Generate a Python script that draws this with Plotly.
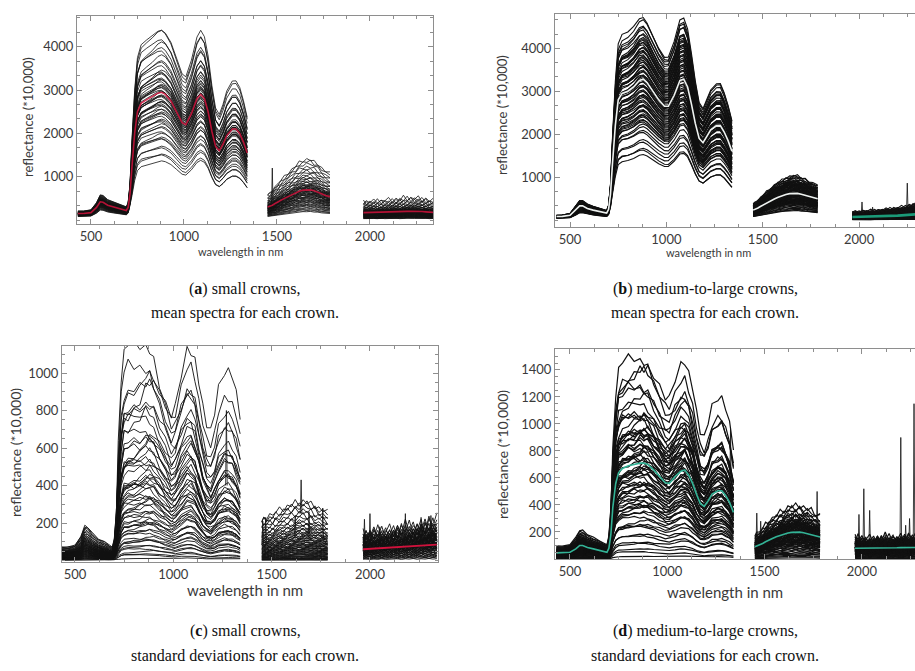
import numpy as np
import plotly.graph_objects as go

# ---------------- wavelength knots (nm) for the three measured segments ----------------
W1 = [430, 460, 500, 530, 550, 565, 590, 620, 650, 675, 690, 700, 710, 720, 735, 750, 770, 800, 830, 860,
      880, 900, 930, 960, 990, 1010, 1040, 1070, 1090, 1110, 1130, 1150, 1170, 1190, 1210, 1230, 1260,
      1280, 1300, 1320, 1340]
W2 = [1450, 1460, 1475, 1490, 1505, 1520, 1540, 1560, 1580, 1600, 1620, 1640, 1660, 1680, 1700, 1720,
      1740, 1760, 1785]
W3 = [1965, 1980, 2000, 2020, 2040, 2060, 2080, 2100, 2120, 2140, 2160, 2180, 2200, 2220, 2240, 2260,
      2280, 2300, 2320, 2340]
TILT_W1 = [0, 0, 0, 0, 0, 0, 0, 0, 0, 0, 0, 0, 0, -0.8, -1, -1, -1, -0.9, -0.8, -0.6, -0.5, -0.4, -0.3,
           -0.15, 0, 0.1, 0.2, 0.3, 0.35, 0.4, 0.5, 0.6, 0.7, 0.8, 0.85, 0.9, 0.95, 1, 1, 1, 1]
N1 = [1.0, 1.06, 0.95, 1.04, 0.97, 1.08, 0.93, 1.05, 0.96, 1.07, 0.94, 1.03, 0.98, 1.06, 0.95, 1.04,
      0.97, 1.08, 0.92, 1.05, 0.97, 1.07, 0.94, 1.03, 0.96, 1.08, 0.95, 1.04, 0.97, 1.06, 0.93, 1.05,
      0.98, 1.07, 0.94, 1.03, 0.96, 1.08, 0.95, 1.04, 1.0]
N2 = [1.00, 1.12, 0.92, 1.05, 0.95, 1.10, 0.90, 1.06, 0.97, 1.08, 0.93, 1.04, 0.96, 1.11, 0.91, 1.07,
      0.94, 1.09, 1.00]
N3 = [1.00, 1.18, 0.88, 1.10, 0.92, 1.22, 0.90, 1.06, 0.95, 1.15, 0.86, 1.12, 0.97, 1.20, 0.89, 1.08,
      0.94, 1.16, 0.91, 1.05]

X_TICKS = [500, 1000, 1500, 2000]

# ---------------- (a) small crowns, mean spectra ----------------
A_MEAN1 = [150, 150, 170, 290, 420, 410, 340, 300, 270, 230, 220, 290, 600, 1200, 2000, 2500, 2700, 2780,
           2850, 2930, 2950, 2900, 2750, 2500, 2250, 2200, 2450, 2800, 2900, 2800, 2500, 2050, 1700, 1600,
           1750, 1950, 2100, 2100, 2000, 1800, 1550]
A_MEAN2 = [300, 310, 340, 380, 420, 455, 500, 540, 585, 625, 665, 690, 700, 695, 675, 645, 605, 565, 540]
A_MEAN3 = [170, 171, 172, 174, 176, 178, 181, 184, 187, 190, 193, 196, 200, 203, 205, 202, 195, 188,
           180, 175]
A_EXP = [0.8, 1.7, 2.2]
A_NOISE = [0.0, 0.3, 0.9]
A_FACTORS = [0.47, 0.50, 0.53, 0.56, 0.59, 0.62, 0.64, 0.66, 0.68, 0.70, 0.72, 0.74, 0.75, 0.77, 0.78,
             0.80, 0.81, 0.83, 0.84, 0.85, 0.86, 0.88, 0.89, 0.90, 0.91, 0.92, 0.93, 0.94, 0.95, 0.96,
             0.97, 0.98, 0.99, 1.00, 1.01, 1.02, 1.03, 1.04, 1.05, 1.06, 1.07, 1.08, 1.09, 1.10, 1.12,
             1.13, 1.15, 1.17, 1.19, 1.21, 1.23, 1.26, 1.29, 1.32, 1.35, 1.39, 1.43, 1.47, 1.50]
A_TILTS = [0.03, -0.04, 0.05, -0.02, 0.04, -0.05, 0.01, 0.03, -0.03, 0.06, -0.01, 0.02, -0.05, 0.04,
           0.00, -0.03, 0.05, -0.02, 0.02, -0.04]
A_SPIKE_WL = [1475]
A_SPIKE_TOP = [1200]
A_SPIKE_BASE = [350]

# ---------------- (b) medium-to-large crowns, mean spectra ----------------
B_MEAN1 = [80, 85, 110, 230, 330, 330, 270, 230, 200, 170, 160, 250, 600, 1300, 2200, 2800, 2950, 3000,
           3100, 3250, 3280, 3200, 3000, 2800, 2650, 2650, 2900, 3250, 3280, 3100, 2700, 2250, 1900, 1800,
           1950, 2100, 2200, 2200, 2050, 1850, 1600]
B_MEAN2 = [230, 245, 280, 320, 360, 400, 445, 490, 530, 565, 595, 615, 625, 620, 600, 575, 545, 515, 495]
B_MEAN3 = [70, 71, 72, 74, 76, 78, 81, 84, 87, 90, 94, 98, 102, 108, 115, 122, 130, 138, 144, 148]
B_EXP = [0.9, 1.4, 2.8]
B_NOISE = [0.0, 0.3, 0.9]
B_FACTORS = [0.47, 0.49, 0.52, 0.55, 0.58, 0.61, 0.64, 0.67, 0.69, 0.70, 0.71, 0.72, 0.73, 0.74, 0.75,
             0.76, 0.77, 0.78, 0.79, 0.80, 0.81, 0.82, 0.83, 0.84, 0.85, 0.86, 0.87, 0.88, 0.89, 0.90,
             0.91, 0.92, 0.93, 0.94, 0.95, 0.96, 0.97, 0.98, 0.99, 1.00, 1.01, 1.02, 1.03, 1.04, 1.05,
             1.06, 1.07, 1.08, 1.09, 1.10, 1.11, 1.12, 1.13, 1.14, 1.15, 1.16, 1.17, 1.18, 1.19, 1.20,
             1.21, 1.22, 1.23, 1.24, 1.25, 1.26, 1.27, 1.28, 1.29, 1.30, 1.31, 1.33, 1.35, 1.37, 1.39,
             1.41, 1.43]
B_TILTS = [0.02, -0.03, 0.04, -0.01, 0.03, -0.04, 0.01, 0.02, -0.02, 0.05, -0.01, 0.03, -0.04, 0.02]
B_SPIKE_WL = [2015, 2070, 2250]
B_SPIKE_TOP = [420, 300, 860]
B_SPIKE_BASE = [150, 160, 200]

# ---------------- (c) small crowns, standard deviations ----------------
C_MEAN1 = [25, 25, 28, 45, 65, 62, 50, 40, 35, 28, 25, 40, 90, 180, 270, 310, 320, 325, 330, 340, 340,
           330, 300, 270, 240, 250, 290, 320, 320, 300, 260, 220, 190, 180, 200, 230, 250, 250, 240, 220,
           190]
C_MEAN2 = [60, 61, 63, 65, 67, 70, 73, 76, 79, 82, 84, 86, 86, 85, 83, 80, 77, 74, 70]
C_MEAN3 = [60, 61, 62, 63, 64, 65, 66, 67, 68, 70, 71, 72, 74, 75, 77, 78, 80, 82, 84, 85]
C_EXP = [0.9, 1.1, 0.7]
C_NOISE = [0.35, 0.7, 1.6]
C_FACTORS = [0.04, 0.08, 0.11, 0.15, 0.18, 0.22, 0.25, 0.29, 0.32, 0.36, 0.39, 0.43, 0.46, 0.50, 0.53,
             0.57, 0.60, 0.64, 0.67, 0.71, 0.74, 0.78, 0.81, 0.85, 0.88, 0.92, 0.95, 0.99, 1.02, 1.06,
             1.10, 1.14, 1.18, 1.22, 1.26, 1.30, 1.34, 1.38, 1.43, 1.48, 1.53, 1.58, 1.63, 1.68, 1.74,
             1.80, 1.86, 1.93, 2.00, 2.08, 2.16, 2.26, 2.38, 2.52, 2.66, 2.80, 2.95, 3.10, 3.22]
C_TILTS = [0.25, -0.2, 0.1, -0.3, 0.3, -0.1, 0.15, -0.25, 0.05, 0.2, -0.15, 0.28, -0.05, -0.3, 0.18,
           0.0, -0.22, 0.12, 0.26, -0.12]
C_SPIKE_WL = [1270, 1455, 1470, 1620, 1650, 1690, 1760, 1972, 2000, 2050, 2180, 2260, 2310]
C_SPIKE_TOP = [800, 210, 230, 240, 430, 260, 280, 220, 250, 180, 250, 230, 240]
C_SPIKE_BASE = [400, 80, 90, 120, 250, 120, 120, 80, 90, 80, 90, 100, 100]

# ---------------- (d) medium-to-large crowns, standard deviations ----------------
D_MEAN1 = [45, 45, 50, 75, 100, 100, 85, 75, 65, 55, 50, 80, 180, 380, 560, 640, 670, 690, 700, 710, 710,
           700, 660, 610, 565, 560, 610, 650, 660, 620, 560, 480, 410, 390, 430, 480, 505, 505, 470, 420,
           345]
D_MEAN2 = [90, 95, 102, 115, 128, 140, 152, 165, 175, 185, 192, 197, 200, 199, 195, 188, 180, 170, 163]
D_MEAN3 = [80, 80, 79, 78, 78, 79, 80, 80, 81, 82, 82, 83, 84, 84, 85, 85, 86, 86, 86, 86]
D_EXP = [1.0, 0.9, 0.8]
D_NOISE = [0.3, 0.7, 1.6]
D_FACTORS = [0.03, 0.07, 0.11, 0.15, 0.19, 0.23, 0.27, 0.31, 0.35, 0.38, 0.41, 0.44, 0.47, 0.50, 0.52,
             0.54, 0.56, 0.58, 0.60, 0.62, 0.64, 0.66, 0.68, 0.70, 0.72, 0.74, 0.76, 0.78, 0.80, 0.82,
             0.84, 0.86, 0.88, 0.90, 0.92, 0.94, 0.96, 0.98, 1.00, 1.02, 1.04, 1.06, 1.08, 1.10, 1.12,
             1.14, 1.16, 1.18, 1.20, 1.22, 1.24, 1.26, 1.28, 1.30, 1.32, 1.34, 1.36, 1.38, 1.40, 1.43,
             1.46, 1.50, 1.55, 1.60, 1.66, 1.72, 1.80, 1.90, 2.00, 2.12]
D_TILTS = [0.15, -0.12, 0.08, -0.18, 0.2, -0.06, 0.1, -0.15, 0.03, 0.12, -0.1, 0.18, -0.03, -0.2, 0.1,
           0.0, -0.14, 0.07, 0.16, -0.08]
D_SPIKE_WL = [1325, 1460, 1480, 1755, 1770, 1985, 2010, 2040, 2120, 2200, 2225, 2245, 2268]
D_SPIKE_TOP = [970, 340, 280, 260, 500, 330, 520, 360, 180, 900, 250, 300, 1150]
D_SPIKE_BASE = [500, 100, 120, 180, 170, 100, 100, 100, 100, 120, 110, 110, 120]

CAPTIONS = [
    ("(<b>a</b>) small crowns,", "mean spectra for each crown."),
    ("(<b>b</b>) medium-to-large crowns,", "mean spectra for each crown."),
    ("(<b>c</b>) small crowns,", "standard deviations for each crown."),
    ("(<b>d</b>) medium-to-large crowns,", "standard deviations for each crown."),
]
Y_TITLE = "reflectance (*10,000)"
X_TITLE = "wavelength in nm"


# ---------------- helpers ----------------
def textured(base, noise, amp, shift):
    n = np.roll(np.array(noise), shift)
    return np.array(base) * (1 + amp * (n - 1))


def crown_lines(m1, m2, m3, exps, noise_amp, factors, tilts):
    s1 = np.where(np.array(W1) <= 710, exps[0], 1.0)
    tw = np.array(TILT_W1)
    xs, ys = [], []
    for k, f in enumerate(factors):
        t = tilts[k % len(tilts)]
        y1 = textured(m1, N1, noise_amp[0], 3 * k) * f ** s1 * (1 + t * tw)
        y2 = textured(m2, N2, noise_amp[1], 5 * k) * f ** exps[1]
        y3 = textured(m3, N3, noise_amp[2], 7 * k) * f ** exps[2]
        y1 = np.clip(y1, 2, None)
        y2 = np.clip(y2, 2, None)
        y3 = np.clip(y3, 2, None)
        xs += W1 + [None] + W2 + [None] + W3 + [None]
        ys += list(y1) + [None] + list(y2) + [None] + list(y3) + [None]
    return xs, ys


def spikes(wl, top, base):
    xs, ys = [], []
    for w, t, b in zip(wl, top, base):
        xs += [w - 4, w, w + 4, None]
        ys += [b, t, b, None]
    return xs, ys


def seg_line(m1, m2, m3, use=(True, True, True)):
    xs, ys = [], []
    for u, w, m in zip(use, (W1, W2, W3), (m1, m2, m3)):
        if u:
            xs += w + [None]
            ys += m + [None]
    return xs, ys


fig = go.Figure()
RED = "#d0123c"
TEAL = "#33b396"

panels = [
    ("x", "y", A_MEAN1, A_MEAN2, A_MEAN3, A_EXP, A_NOISE, A_FACTORS, A_TILTS, A_SPIKE_WL, A_SPIKE_TOP,
     A_SPIKE_BASE, 0.8),
    ("x2", "y2", B_MEAN1, B_MEAN2, B_MEAN3, B_EXP, B_NOISE, B_FACTORS, B_TILTS, B_SPIKE_WL, B_SPIKE_TOP,
     B_SPIKE_BASE, 1.1),
    ("x3", "y3", C_MEAN1, C_MEAN2, C_MEAN3, C_EXP, C_NOISE, C_FACTORS, C_TILTS, C_SPIKE_WL, C_SPIKE_TOP,
     C_SPIKE_BASE, 0.9),
    ("x4", "y4", D_MEAN1, D_MEAN2, D_MEAN3, D_EXP, D_NOISE, D_FACTORS, D_TILTS, D_SPIKE_WL, D_SPIKE_TOP,
     D_SPIKE_BASE, 1.2),
]

for i, (xa, ya, m1, m2, m3, ex, na, fac, tl, swl, stop, sbase, lw) in enumerate(panels):
    cx, cy = crown_lines(m1, m2, m3, ex, na, fac, tl)
    fig.add_trace(go.Scatter(x=cx, y=cy, mode="lines", line=dict(color="#111111", width=lw),
                             xaxis=xa, yaxis=ya, hoverinfo="skip"))
    sx, sy = spikes(swl, stop, sbase)
    fig.add_trace(go.Scatter(x=sx, y=sy, mode="lines", line=dict(color="#111111", width=0.8),
                             xaxis=xa, yaxis=ya, hoverinfo="skip"))

# mean lines on top
mx, my = seg_line(A_MEAN1, A_MEAN2, A_MEAN3)
fig.add_trace(go.Scatter(x=mx, y=my, mode="lines", line=dict(color=RED, width=1.6), opacity=0.85,
                         xaxis="x", yaxis="y"))
mx, my = seg_line(B_MEAN1, B_MEAN2, B_MEAN3, (True, True, False))
fig.add_trace(go.Scatter(x=mx, y=my, mode="lines", line=dict(color="#eef2f0", width=1.6), xaxis="x2", yaxis="y2"))
mx, my = seg_line(B_MEAN1, B_MEAN2, B_MEAN3, (False, False, True))
fig.add_trace(go.Scatter(x=mx, y=my, mode="lines", line=dict(color="#1b9a78", width=2.6), xaxis="x2", yaxis="y2"))
mx, my = seg_line(C_MEAN1, C_MEAN2, C_MEAN3, (False, False, True))
fig.add_trace(go.Scatter(x=mx, y=my, mode="lines", line=dict(color=RED, width=1.8), xaxis="x3", yaxis="y3"))
mx, my = seg_line(D_MEAN1, D_MEAN2, D_MEAN3)
fig.add_trace(go.Scatter(x=mx, y=my, mode="lines", line=dict(color=TEAL, width=1.6), xaxis="x4", yaxis="y4"))

AX = "#8e8e8e"
TXT = "#3a3a3a"
TICKFONT = dict(family="Lato", size=13, color=TXT)
W, H = 915, 671


def px(x0, x1):
    return [x0 / W, min(x1 / W, 1.0)]


def py(top, bottom):
    return [1 - bottom / H, 1 - top / H]


def xaxis(dom, rng, anchor):
    return dict(domain=dom, range=rng, anchor=anchor, tickvals=X_TICKS, ticks="inside", ticklen=5,
                tickcolor=AX, showline=True, linecolor=AX, linewidth=1, mirror="ticks", showgrid=False,
                zeroline=False, tickfont=TICKFONT,
                minor=dict(ticks="inside", ticklen=3, dtick=125, tick0=0, tickcolor=AX))


def yaxis(dom, rng, anchor, tickvals, minor, mirror):
    return dict(domain=dom, range=rng, anchor=anchor, tickvals=tickvals, ticks="inside", ticklen=5,
                tickcolor=AX, showline=True, linecolor=AX, linewidth=1, mirror=mirror, showgrid=False,
                zeroline=False, tickfont=TICKFONT,
                minor=dict(ticks="inside", ticklen=3, dtick=minor, tick0=0, tickcolor=AX))


fig.update_layout(
    width=W, height=H, margin=dict(l=0, r=0, t=0, b=0), showlegend=False,
    paper_bgcolor="white", plot_bgcolor="white",
    xaxis=xaxis(px(77, 433), [425, 2339], "y"),
    yaxis=yaxis(py(16, 224), [-92, 4711], "x", [1000, 2000, 3000, 4000], 1000 / 3, "ticks"),
    xaxis2=xaxis(px(555, 915), [422, 2290], "y2"),
    yaxis2=yaxis(py(14, 227), [-163, 4800], "x2", [1000, 2000, 3000, 4000], 1000 / 3, False),
    xaxis3=xaxis(px(62, 438), [434, 2346], "y3"),
    yaxis3=yaxis(py(346, 562), [-8, 1144], "x3", [200, 400, 600, 800, 1000], 50, "ticks"),
    xaxis4=xaxis(px(555, 915), [423, 2273], "y4"),
    yaxis4=yaxis(py(349, 559), [0, 1555], "x4", [200, 400, 600, 800, 1000, 1200, 1400], 50, False),
)

ann = []
for xpix, ypix, fs in [(28, 117, 13), (502, 115, 13), (15, 453, 14), (502, 455, 14)]:
    ann.append(dict(text=Y_TITLE, x=xpix / W, y=1 - ypix / H, xref="paper", yref="paper",
                    textangle=-90, showarrow=False, font=dict(family="Lato", size=fs, color=TXT),
                    xanchor="center", yanchor="middle"))
for xpix, ypix, fs in [(240, 251, 11), (708, 252, 11), (245, 590, 15), (725, 592, 15)]:
    ann.append(dict(text=X_TITLE, x=xpix / W, y=1 - ypix / H, xref="paper", yref="paper",
                    showarrow=False, font=dict(family="Lato", size=fs, color=TXT),
                    xanchor="center", yanchor="middle"))
cap_pos = [(245, 289, 313), (705, 289, 313), (245, 631, 655), (705, 631, 655)]
for (l1, l2), (xc, y1, y2) in zip(CAPTIONS, cap_pos):
    for t, yy in ((l1, y1), (l2, y2)):
        ann.append(dict(text=t, x=xc / W, y=1 - yy / H, xref="paper", yref="paper", showarrow=False,
                        font=dict(family="Liberation Serif", size=16, color="#111"),
                        xanchor="center", yanchor="middle"))
fig.update_layout(annotations=ann)

fig.write_html("out.html")
